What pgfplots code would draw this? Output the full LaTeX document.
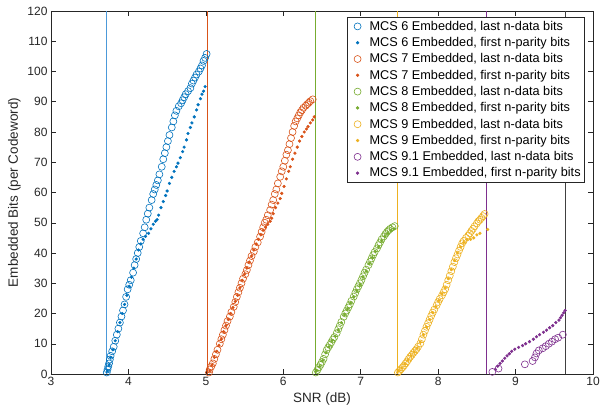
\documentclass[border=0pt]{standalone}
\usepackage{fontspec}
\setmainfont{Liberation Sans}
\usepackage{pgfplots}
\pgfplotsset{compat=1.18}
\definecolor{mblue}{rgb}{0,0.447,0.741}
\definecolor{morange}{rgb}{0.850,0.325,0.098}
\definecolor{myellow}{rgb}{0.929,0.694,0.125}
\definecolor{mpurple}{rgb}{0.494,0.184,0.556}
\definecolor{mgreen}{rgb}{0.466,0.674,0.188}
\definecolor{lblue}{rgb}{0.30,0.60,0.85}
\definecolor{axgray}{gray}{0.15}
\pgfplotsset{
  legimg/.style={legend image code/.code={%
    \path[draw=none, fill=none] (0pt,-3pt) rectangle (18pt,3pt);
    \draw[mark repeat=2,mark phase=2] plot coordinates {(0pt,0pt)(8pt,0pt)(16pt,0pt)};}},
  circ/.style={only marks, mark=o, mark size=3.5pt, mark options={line width=0.6pt}, legimg},
  dotm/.style={only marks, mark=*, mark size=1.4pt, legimg},
}
\begin{document}
\begin{tikzpicture}
\begin{axis}[
  scale only axis, width=542pt, height=363pt,
  xmin=3, xmax=10, ymin=0, ymax=120,
  xtick={3,4,...,10}, ytick={0,10,...,120},
  tick align=inside, major tick length=5pt,
  axis line style={axgray, line width=0.5pt},
  every tick/.style={axgray, line width=0.5pt},
  tick label style={font=\fontsize{12}{14}\selectfont, text=axgray},
  /pgf/number format/assume math mode=true,
  xlabel={SNR (dB)}, ylabel={Embedded Bits (per Codeword)},
  label style={font=\fontsize{13.5}{15}\selectfont, text=axgray},
  legend style={at={(0.985,0.984)}, anchor=north east, draw=axgray, line width=0.5pt,
    font=\fontsize{12.7}{14}\selectfont, text=black, row sep=1.6pt, inner sep=2pt},
  legend cell align=left,
]
% threshold lines
\addplot[forget plot, no marks, color=lblue, line width=1pt] coordinates {(3.72,0)(3.72,120)};
\addplot[forget plot, no marks, color=morange, line width=1pt] coordinates {(5.02,0)(5.02,120)};
\addplot[forget plot, no marks, color=mgreen, line width=1pt] coordinates {(6.42,0)(6.42,120)};
\addplot[forget plot, no marks, color=myellow, line width=1pt] coordinates {(7.47,0)(7.47,120)};
\addplot[forget plot, no marks, color=mpurple, line width=1pt] coordinates {(8.62,0)(8.62,120)};
\addplot[forget plot, no marks, color=black!75, line width=1pt] coordinates {(9.64,0)(9.64,120)};

% MCS 6
\addplot[circ, mblue] coordinates {
(3.72,0.5)(3.73,1.5)(3.74,2.5)(3.75,3.5)(3.76,4.8)(3.77,6)(3.79,7.5)(3.81,9)(3.83,11)(3.85,13)
(3.87,15)(3.89,17)(3.91,19)(3.93,21)(3.95,23)(3.97,25.5)(3.99,28)(4.01,29.5)(4.03,31)(4.06,33.5)
(4.08,36)(4.10,38)(4.12,40)(4.14,42)(4.16,44)(4.19,46.5)(4.21,48.5)(4.23,51)(4.25,53)(4.27,55)
(4.30,57.5)(4.32,59.5)(4.34,61)(4.36,62.5)(4.38,64)(4.40,66)(4.43,68.5)(4.45,71)(4.47,73)(4.49,75)
(4.51,77)(4.53,79)(4.56,81.5)(4.58,83.5)(4.60,85.5)(4.62,87)(4.65,88.5)(4.68,89.5)(4.70,90.5)(4.72,91.5)
(4.74,92.5)(4.77,93.5)(4.80,94.5)(4.82,96)(4.84,97)(4.86,98)(4.88,99)(4.91,100)(4.93,101)(4.95,102)
(4.97,103.5)(4.99,104.5)(5.01,105.8)};
\addlegendentry{MCS 6 Embedded, last n-data bits}
\addplot[dotm, mblue] coordinates {
(3.73,1)(3.75,3)(3.77,5.5)(3.80,8)(3.83,11)(3.86,14)(3.89,17)(3.92,20)(3.95,23)(3.98,26)
(4.01,29)(4.04,32)(4.07,35)(4.10,38)(4.13,41)(4.16,43)(4.19,44.5)(4.22,45.5)(4.26,46.5)(4.29,48)
(4.32,49.5)(4.35,50.5)(4.37,51)(4.39,52.5)(4.42,55)(4.45,57)(4.48,59)(4.50,60.5)(4.53,63)(4.56,65)
(4.59,67)(4.62,68.5)(4.64,69.7)(4.67,71.5)(4.70,73.5)(4.72,75)(4.75,77.4)(4.77,79.5)(4.80,81.5)(4.82,83)
(4.85,85)(4.88,87.3)(4.90,89)(4.93,91)(4.95,92.5)(4.97,93.5)(4.99,95)};
\addlegendentry{MCS 6 Embedded, first n-parity bits}

% MCS 7
\addplot[circ, morange] coordinates {
(5.04,0.5)(5.05,1.5)(5.07,2.5)(5.09,3.5)(5.11,5)(5.13,6.5)(5.15,8)(5.18,10)(5.20,11.5)(5.22,13)
(5.24,14.5)(5.26,16)(5.28,17.5)(5.31,19)(5.33,20.5)(5.36,22.2)(5.38,23.8)(5.40,25.5)(5.42,27)(5.44,28.5)
(5.46,30)(5.48,31.5)(5.51,33)(5.53,34.4)(5.55,36)(5.57,37.5)(5.59,39)(5.62,40.5)(5.64,42)(5.67,43.5)
(5.70,45.4)(5.72,47)(5.74,48.5)(5.76,50)(5.78,51)(5.80,52.5)(5.83,54.2)(5.85,56)(5.87,57.5)(5.89,59.5)
(5.91,61)(5.93,63)(5.96,65.2)(5.98,67)(6.00,68.5)(6.02,70.5)(6.04,72.5)(6.06,74)(6.08,76)(6.10,78)
(6.12,80)(6.14,82)(6.16,83.5)(6.18,84.5)(6.20,85.5)(6.22,86.5)(6.24,87.2)(6.26,88)(6.29,88.7)(6.31,89.2)
(6.33,89.7)(6.35,90.2)(6.38,90.8)};
\addlegendentry{MCS 7 Embedded, last n-data bits}
\addplot[dotm, morange] coordinates {
(5.05,1)(5.08,3)(5.11,5.5)(5.14,7.5)(5.17,9.5)(5.20,11.5)(5.23,14)(5.26,16)(5.29,18)(5.32,20)
(5.35,22)(5.38,24)(5.41,26)(5.44,28.5)(5.47,31)(5.50,33)(5.53,35)(5.56,37)(5.59,39)(5.62,41)
(5.65,43)(5.68,44.5)(5.71,46)(5.74,47.5)(5.77,48.5)(5.80,49.5)(5.83,50.5)(5.85,51.5)(5.87,53)(5.90,55)
(5.93,56.5)(5.96,58)(5.98,59.7)(6.01,62)(6.04,64.5)(6.07,67)(6.09,68.5)(6.12,71)(6.15,73)(6.18,75)
(6.21,77)(6.24,78.5)(6.27,80)(6.30,81)(6.32,81.8)(6.35,83)(6.38,84)(6.40,85)};
\addlegendentry{MCS 7 Embedded, first n-parity bits}

% MCS 8
\addplot[circ, mgreen] coordinates {
(6.42,0.5)(6.44,1.3)(6.46,2.2)(6.48,3)(6.50,4)(6.52,5)(6.54,6.5)(6.56,7.9)(6.58,8.8)(6.60,9.6)
(6.62,10.5)(6.64,11.4)(6.66,12.2)(6.69,13.5)(6.71,14.8)(6.73,16)(6.75,17.2)(6.78,18.9)(6.80,20)(6.82,21)
(6.84,22)(6.86,23)(6.88,24.2)(6.91,25.6)(6.93,26.8)(6.95,28)(6.97,29)(6.99,30)(7.01,31.1)(7.03,32.3)
(7.05,33.5)(7.07,34.5)(7.10,36)(7.12,37.1)(7.14,38.2)(7.16,39.3)(7.18,40.3)(7.21,41.5)(7.23,42.6)(7.25,43.5)
(7.27,44.5)(7.30,45.5)(7.32,46.3)(7.34,47)(7.36,47.5)(7.38,48)(7.41,48.5)(7.44,48.9)};
\addlegendentry{MCS 8 Embedded, last n-data bits}
\addplot[dotm, mgreen] coordinates {
(6.43,1)(6.47,2.5)(6.51,4.5)(6.55,7)(6.59,9)(6.63,11)(6.67,12.5)(6.71,14.5)(6.75,17)(6.79,19.5)
(6.83,21.5)(6.87,23.5)(6.91,25.5)(6.95,27.5)(6.99,29.5)(7.03,32)(7.07,34)(7.11,36.5)(7.15,38.5)(7.19,40.5)
(7.23,42)(7.27,44)(7.31,45.5)(7.35,46.5)(7.39,47.5)(7.43,48)};
\addlegendentry{MCS 8 Embedded, first n-parity bits}

% MCS 9
\addplot[circ, myellow] coordinates {
(7.48,0.5)(7.50,1)(7.52,1.6)(7.54,2.2)(7.56,2.8)(7.58,3.5)(7.60,4.2)(7.62,5)(7.64,5.7)(7.66,6.3)
(7.68,7)(7.70,7.6)(7.72,8.2)(7.74,9)(7.77,10.1)(7.79,11.5)(7.81,13)(7.83,14.3)(7.85,15.6)(7.87,16.8)
(7.89,18)(7.91,19.2)(7.93,20.3)(7.95,21.3)(7.98,22.7)(8.00,23.8)(8.02,24.8)(8.05,26)(8.07,27)(8.09,28)
(8.11,29.5)(8.13,31)(8.15,32.5)(8.17,34)(8.19,35.5)(8.21,37)(8.23,38.3)(8.25,39.5)(8.27,40.8)(8.29,42)
(8.31,43.2)(8.33,44)(8.36,45)(8.39,45.8)(8.41,46.5)(8.43,47.3)(8.45,48)(8.47,48.8)(8.50,49.8)(8.52,50.5)
(8.54,51)(8.56,51.6)(8.58,52.2)(8.60,52.9)};
\addlegendentry{MCS 9 Embedded, last n-data bits}
\addplot[dotm, myellow] coordinates {
(7.49,1)(7.53,2)(7.57,3.3)(7.61,4.6)(7.65,6)(7.69,7.3)(7.73,8.6)(7.77,10.5)(7.81,13)(7.85,15.5)
(7.89,18)(7.93,20.3)(7.97,22.3)(8.01,24.3)(8.05,26.5)(8.09,28.5)(8.13,31.5)(8.17,34.5)(8.21,37.5)(8.25,40)
(8.29,42)(8.33,43.5)(8.37,44.5)(8.42,44.5)(8.46,45)(8.50,46)(8.54,46.5)(8.64,47.8)};
\addlegendentry{MCS 9 Embedded, first n-parity bits}

% MCS 9.1
\addplot[circ, mpurple] coordinates {
(8.70,0.7)(8.78,1.8)(9.12,3.2)(9.22,4.3)(9.25,5.5)(9.27,6.8)(9.30,7.8)(9.35,8.5)(9.39,9.2)(9.43,10)
(9.47,10.7)(9.51,11.5)(9.55,12)(9.61,13)};
\addlegendentry{MCS 9.1 Embedded, last n-data bits}
\addplot[dotm, mpurple] coordinates {
(8.74,1.5)(8.77,2.6)(8.80,3.5)(8.83,4.3)(8.86,5.2)(8.89,6)(8.92,6.7)(8.95,7.5)(8.99,8.2)(9.04,8.8)
(9.09,9.4)(9.13,10)(9.18,10.7)(9.23,11.5)(9.27,12.3)(9.31,13)(9.36,13.8)(9.40,14.5)(9.44,15.3)(9.48,16)
(9.52,17)(9.56,17.8)(9.58,18.6)(9.60,19.4)(9.62,20.2)(9.64,21)};
\addlegendentry{MCS 9.1 Embedded, first n-parity bits}
\end{axis}
\path ([shift={(-51pt,-41pt)}]current axis.south west) rectangle ([shift={(12pt,11pt)}]current axis.north east);
\end{tikzpicture}
\end{document}
